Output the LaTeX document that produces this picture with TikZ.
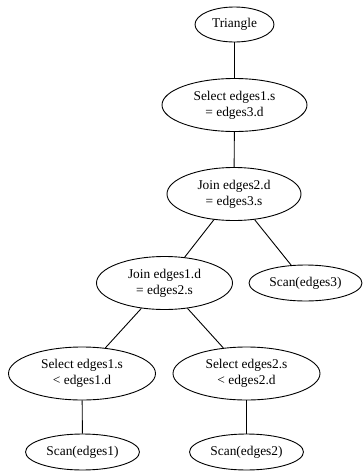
\documentclass[tikz,border=0pt]{standalone}
\usepackage{fontspec}
\setmainfont{Liberation Serif}
\usetikzlibrary{shapes.geometric}
\begin{document}
\begin{tikzpicture}[x=1pt,y=-1pt,
  nd/.style={ellipse,draw=black,line width=0.9pt,inner sep=0pt,align=center,
    font=\fontsize{13.4}{16}\selectfont,text=black},
  one/.style={nd,minimum width=114pt,minimum height=36pt},
  two/.style={nd,minimum width=145pt,minimum height=53pt},
  ln/.style={draw=black,line width=0.9pt}]
\useasboundingbox (0,0) rectangle (363,472);
\node[one,minimum width=79pt,minimum height=35pt] (tri) at (234.5,24.5) {Triangle};
\node[two] (sel3) at (234.5,105) {Select edges1.s\\= edges3.d};
\node[two,minimum width=134pt] (join2) at (234,194) {Join edges2.d\\= edges3.s};
\node[two,minimum width=136pt] (join1) at (164.5,283) {Join edges1.d\\= edges2.s};
\node[one,minimum width=113pt] (scan3) at (305.5,283) {Scan(edges3)};
\node[two,minimum width=147pt] (sel1) at (82,373.5) {Select edges1.s\\< edges1.d};
\node[two,minimum width=147pt] (sel2) at (246.5,373.5) {Select edges2.s\\< edges2.d};
\node[one] (scan1) at (82.5,452) {Scan(edges1)};
\node[one] (scan2) at (246.5,452) {Scan(edges2)};
\draw[ln] (tri) -- (sel3);
\draw[ln] (sel3) -- (join2);
\draw[ln] (join2) -- (join1);
\draw[ln] (join2) -- (scan3);
\draw[ln] (join1) -- (sel1);
\draw[ln] (join1) -- (sel2);
\draw[ln] (sel1) -- (scan1);
\draw[ln] (sel2) -- (scan2);
\end{tikzpicture}
\end{document}
